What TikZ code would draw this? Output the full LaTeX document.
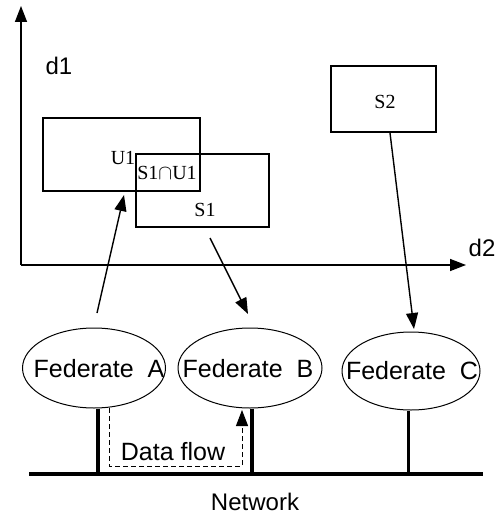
\documentclass[tikz,border=0pt]{standalone}
\usepackage{fontspec}
\setmainfont{Liberation Serif}
\setsansfont{Liberation Sans}
\usetikzlibrary{shapes.geometric,arrows.meta,calc}
\begin{document}
\begin{tikzpicture}[x=1pt,y=-1pt,
  region/.style={draw,line width=1.3pt,inner sep=0pt},
  fed/.style={draw,ellipse,line width=1pt,inner sep=0pt},
  fedtext/.style={font=\sffamily\fontsize{25}{29}\selectfont,inner sep=0pt},
  lbl/.style={font=\sffamily\fontsize{24}{28}\selectfont,inner sep=0pt},
  tag/.style={font=\rmfamily\fontsize{20}{24}\selectfont,inner sep=0pt},
  tip/.style={-{Triangle[length=16pt,width=12pt]}},
  link/.style={line width=1.4pt,tip},
  post/.style={line width=4pt},
]
\useasboundingbox (0,0) rectangle (497,516);

% axes
\coordinate (o) at (21,265);
\coordinate (ytop) at (21,6);
\coordinate (xend) at (466,265);
\draw[line width=1.5pt,tip] (o) -- (ytop);
\draw[line width=1.5pt,tip] (o) -- (xend);
\node[lbl] (d1) at (59,66) {d1};
\node[lbl] (d2) at (482,248) {d2};

% regions
\node[region,minimum width=157pt,minimum height=73pt] (u1) at (121.5,154.5) {};
\node[region,minimum width=133pt,minimum height=73pt] (s1) at (202.5,190.5) {};
\node[region,minimum width=105pt,minimum height=66pt] (s2) at (383.5,99) {};
\node[tag] (u1t) at (123,158) {U1};
\node[tag] (s1u1t) at (167,173) {S1$\cap$U1};
\node[tag] (s1t) at (205,210) {S1};
\node[tag] (s2t) at (385,102) {S2};

% federates
\node[fed,minimum width=143pt,minimum height=80pt] (fa) at (94,368) {};
\node[fed,minimum width=144pt,minimum height=80pt] (fb) at (250,368) {};
\node[fed,minimum width=138pt,minimum height=78pt] (fc) at (411,371) {};
\node[fedtext] (fat) at (99,369) {Federate\ \ A};
\node[fedtext] (fbt) at (248,369) {Federate\ \ B};
\node[fedtext] (fct) at (412,371) {Federate\ \ C};

% interest / publication arrows
\coordinate (aout) at (97,313);
\coordinate (u1in) at (124,195);
\coordinate (s1out) at (210,238);
\coordinate (bin) at (248,314);
\coordinate (s2out) at (390,133);
\coordinate (cin) at (414,329);
\draw[link] (aout) -- (u1in);
\draw[link] (s1out) -- (bin);
\draw[link] (s2out) -- (cin);

% network bus and attachments
\coordinate (nl) at (29,474);
\coordinate (nr) at (483,474);
\draw[post] (nl) -- (nr);
\draw[post] (fa.south -| 98,0) -- (98,474);
\draw[post] (fb.south -| 252,0) -- (252,474);
\draw[line width=3pt] (fc.south -| 408,0) -- (408,474);
\node[lbl] (net) at (255,502) {Network};

% data flow path
\coordinate (df1) at (109,408);
\coordinate (df2) at (109,466);
\coordinate (df3) at (242,466);
\coordinate (df4) at (242,410);
\draw[line width=1pt,dash pattern=on 5pt off 3pt,-{Triangle[length=16pt,width=12pt]}]
  (df1) -- (df2) -- (df3) -- (df4);
\node[lbl,font=\sffamily\fontsize{25}{29}\selectfont] (df) at (173,452) {Data flow};
\end{tikzpicture}
\end{document}
